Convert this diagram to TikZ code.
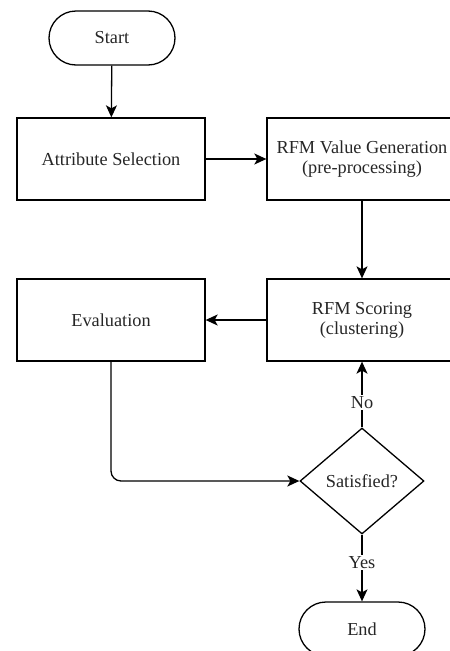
\documentclass[tikz,border=0pt]{standalone}
\usepackage{fontspec}
\setmainfont{Liberation Serif}
\usetikzlibrary{arrows.meta,shapes.geometric,shapes.misc}
\begin{document}
\begin{tikzpicture}[x=1pt,y=-1pt,
  every node/.style={font=\fontsize{18.3}{20}\selectfont, text=black!85},
  box/.style={draw, line width=1.3pt, minimum width=188pt, minimum height=82pt, inner sep=0pt, align=center},
  term/.style={draw, line width=1.3pt, rounded rectangle, minimum width=126pt, minimum height=54pt, inner sep=0pt},
  dec/.style={draw, line width=1.3pt, diamond, minimum width=124pt, minimum height=106pt, inner sep=0pt, aspect=1.17},
  lbl/.style={fill=white, inner sep=1.5pt},
  conn/.style={line width=1.3pt, -{Stealth[length=12pt,width=11pt,inset=3pt]}}
]
\useasboundingbox (0,0) rectangle (450,651);
\node[term] (start) at (112,38) {Start};
\node[box] (attr) at (111,159) {Attribute Selection};
\node[box, minimum width=190pt] (gen) at (362,159) {RFM Value Generation\\(pre-processing)};
\node[box] (eval) at (111,320) {Evaluation};
\node[box, minimum width=190pt] (score) at (362,320) {RFM Scoring\\(clustering)};
\node[dec] (sat) at (362,481) {Satisfied?};
\node[term] (end) at (362,629) {End};
\coordinate (corner) at (111,481);
\draw[conn] (start) -- (attr);
\draw[conn] (attr) -- (gen.west |- attr);
\draw[conn] (gen) -- (score);
\draw[conn] (score.west |- eval) -- (eval);
\draw[conn, rounded corners=10pt] (eval.south) -- (corner) -- (sat.west);
\draw[conn] (sat.north) -- node[lbl, pos=0.38] {No} (score.south);
\draw[conn] (sat.south) -- node[lbl, pos=0.42] {Yes} (end.north);
\end{tikzpicture}
\end{document}
